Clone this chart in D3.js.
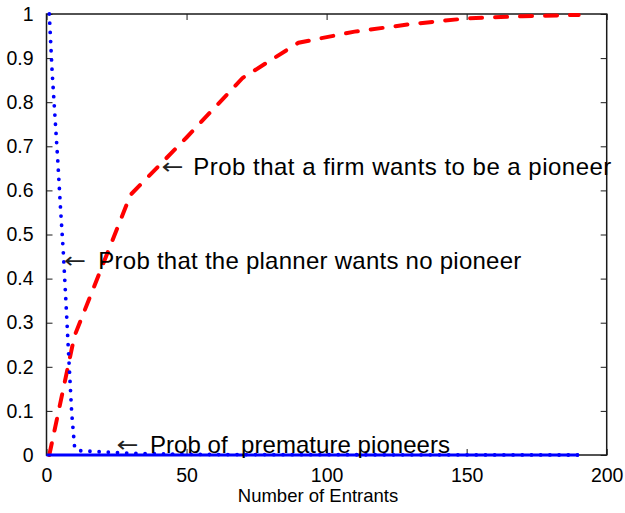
<!DOCTYPE html>
<html>
<head>
<meta charset="utf-8">
<script src="https://cdn.jsdelivr.net/npm/d3@7"></script>
<style>
  html, body { margin: 0; padding: 0; background: #fff; }
  svg { display: block; }
  text { font-family: "Liberation Sans", Arial, Helvetica, sans-serif; fill: #000; }
</style>
</head>
<body>
<svg id="chart" width="625" height="513"></svg>
<script>
// Probability that a firm wants to be a pioneer (red dashed)
const firmEntrants = [1, 10, 30, 50, 70, 90, 110, 130, 150, 170, 190];
const firmPioneer  = [0, 0.27, 0.59, 0.72, 0.855, 0.935, 0.96, 0.977, 0.99, 0.995, 0.998];

// Probability that the planner wants no pioneer (blue dotted)
const plannerEntrants = [1, 2, 3, 4, 5, 6, 7, 8, 9, 10, 11, 20, 30, 45, 60, 190];
const plannerNoPioneer = [1, 0.87, 0.77, 0.67, 0.56, 0.46, 0.34, 0.215, 0.095, 0.02, 0.01, 0.007, 0.004, 0.002, 0.001, 0];

// Probability of premature pioneers (blue solid)
const prematureEntrants = [0, 190];
const prematurePioneers = [0, 0];

// Axis ticks
const xTickValues = [0, 50, 100, 150, 200];
const xTickLabels = ["0", "50", "100", "150", "200"];
const yTickValues = [0, 0.1, 0.2, 0.3, 0.4, 0.5, 0.6, 0.7, 0.8, 0.9, 1];
const yTickLabels = ["0", "0.1", "0.2", "0.3", "0.4", "0.5", "0.6", "0.7", "0.8", "0.9", "1"];

const svg = d3.select("#chart");
const L = 46.5, R = 606.7, T = 14, B = 455;

const x = d3.scaleLinear().domain([0, 200]).range([L, R]);
const y = d3.scaleLinear().domain([0, 1]).range([B, T]);

const toPts = (xs, ys) => xs.map((v, i) => [v, ys[i]]);
const line = d3.line().x(d => x(d[0])).y(d => y(d[1]));

// Axes: box with inward ticks on all four sides
const axisColor = "#1a1a1a";
const tickLen = 6;

const xAxisB = d3.axisBottom(x).tickValues(xTickValues).tickFormat((d, i) => xTickLabels[i])
  .tickSizeInner(-tickLen).tickSizeOuter(0).tickPadding(13);
const xAxisT = d3.axisTop(x).tickValues(xTickValues).tickFormat("")
  .tickSizeInner(-tickLen).tickSizeOuter(0);
const yAxisL = d3.axisLeft(y).tickValues(yTickValues).tickFormat((d, i) => yTickLabels[i])
  .tickSizeInner(-tickLen).tickSizeOuter(0).tickPadding(13);
const yAxisR = d3.axisRight(y).tickValues(yTickValues).tickFormat("")
  .tickSizeInner(-tickLen).tickSizeOuter(0);

function style(g) {
  g.select(".domain").remove();
  g.selectAll(".tick line").attr("stroke", axisColor).attr("stroke-width", 1);
  g.selectAll(".tick text").attr("fill", "#000").style("font-size", "19.5px")
    .style("font-family", "'Liberation Sans', Arial, sans-serif");
}

svg.append("g").attr("transform", `translate(0,${B})`).call(xAxisB).call(style);
svg.append("g").attr("transform", `translate(0,${T})`).call(xAxisT).call(style);
svg.append("g").attr("transform", `translate(${L},0)`).call(yAxisL).call(style);
svg.append("g").attr("transform", `translate(${R},0)`).call(yAxisR).call(style);

svg.append("rect")
  .attr("x", L).attr("y", T).attr("width", R - L).attr("height", B - T)
  .attr("fill", "none").attr("stroke", axisColor).attr("stroke-width", 1.5);

// Curves, drawn above the axes box
const plot = svg.append("g");

plot.append("path")
  .attr("d", line(toPts(firmEntrants, firmPioneer)))
  .attr("fill", "none")
  .attr("stroke", "#ff0000")
  .attr("stroke-width", 4)
  .attr("stroke-linecap", "round")
  .attr("stroke-dasharray", "12 13");

plot.append("path")
  .attr("d", line(toPts(plannerEntrants, plannerNoPioneer)))
  .attr("fill", "none")
  .attr("stroke", "#0000ff")
  .attr("stroke-width", 3.8)
  .attr("stroke-linecap", "round")
  .attr("stroke-dasharray", "0 9.2");

plot.append("path")
  .attr("d", line(toPts(prematureEntrants, prematurePioneers)))
  .attr("fill", "none")
  .attr("stroke", "#0000ff")
  .attr("stroke-width", 3);

// Axis title
svg.append("text")
  .attr("x", 318).attr("y", 502)
  .attr("text-anchor", "middle")
  .style("font-size", "18.5px")
  .text("Number of Entrants");

// Curve annotations
const notes = [
  { ax: 161.5, tx: 193.3, base: 175, len: 418, label: "Prob that a firm wants to be a pioneer" },
  { ax: 64, tx: 98.3, base: 269.3, len: 423, label: "Prob that the planner wants no pioneer" },
  { ax: 116.5, tx: 150, base: 453, len: 300, label: "Prob of  premature pioneers" }
];

notes.forEach(n => {
  svg.append("text")
    .attr("x", n.ax).attr("y", n.base - 1)
    .style("font-family", "'DejaVu Sans', sans-serif")
    .style("font-size", "22px")
    .style("fill", "#222")
    .attr("textLength", 22)
    .attr("lengthAdjust", "spacingAndGlyphs")
    .text("\u2190");
  svg.append("text")
    .attr("x", n.tx).attr("y", n.base)
    .style("font-size", "24px")
    .style("white-space", "pre")
    .attr("xml:space", "preserve")
    .attr("textLength", n.len)
    .attr("lengthAdjust", "spacing")
    .text(n.label);
});
</script>
</body>
</html>
